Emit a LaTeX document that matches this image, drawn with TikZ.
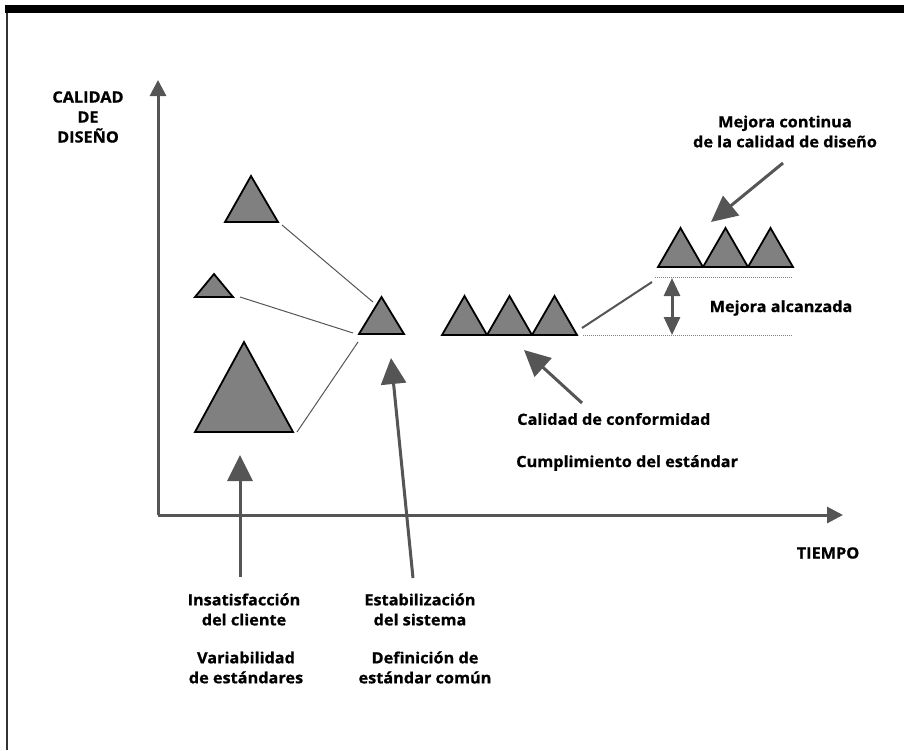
\documentclass[tikz,border=0pt]{standalone}
\usepackage{fontspec}
\setmainfont{Open Sans}[FakeStretch=1.05, BoldFeatures={FakeBold=0.8}]
\usetikzlibrary{arrows.meta}
\definecolor{trigray}{HTML}{808080}
\definecolor{arrgray}{HTML}{555555}
\begin{document}
\begin{tikzpicture}[x=1pt,y=-1pt,
  trishape/.style={fill=trigray, draw=black, line width=1.8pt, line join=miter},
  axis/.style={draw=arrgray, line width=3pt, -{Triangle[length=16pt,width=16pt]}},
  bigarrow/.style={draw=arrgray, line width=3pt, -{Triangle[length=26pt,width=25pt]}},
  dblarrow/.style={draw=arrgray, line width=3pt, {Triangle[length=18pt,width=16pt]}-{Triangle[length=18pt,width=16pt]}},
  thinlink/.style={draw=arrgray, line width=1pt},
  risinglink/.style={draw=arrgray, line width=2pt},
  levelline/.style={draw=gray, line width=1pt, densely dotted},
  lbl/.style={font=\bfseries\fontsize{15.5}{20}\selectfont, align=center, inner sep=0pt}
]
\useasboundingbox (0,0) rectangle (904,750);
% frame
\fill[black] (5,5) rectangle (904,13);
\draw[line width=2pt, black!80] (7,13) -- (7,750);

% axes
\coordinate (O) at (158,515);
\coordinate (ytop) at (158,80);
\coordinate (xend) at (843,515);
\draw[axis] (O) -- (ytop);
\draw[axis] (O) -- (xend);

% axis labels
\node[lbl] (ylab) at (88,117) {CALIDAD\\DE\\DISEÑO};
\node[lbl] (xlab) at (828,553) {TIEMPO};

% thin links to centre triangle
\coordinate (a1) at (282,225); \coordinate (b1) at (373,302);
\coordinate (a2) at (240,297); \coordinate (b2) at (353,333);
\coordinate (a3) at (297,432); \coordinate (b3) at (358,342);
\draw[thinlink] (a1) -- (b1);
\draw[thinlink] (a2) -- (b2);
\draw[thinlink] (a3) -- (b3);

% left triangles
\draw[trishape] (225,222) -- (251,176) -- (278,222) -- cycle;
\draw[trishape] (195,297) -- (214,274) -- (233,297) -- cycle;
\draw[trishape] (195,432) -- (244,342) -- (293,432) -- cycle;
% centre triangle
\draw[trishape] (359,334) -- (381.5,297) -- (404,334) -- cycle;

% row of three (conformity)
\draw[trishape] (442,335) -- (464.5,296) -- (487,335) -- cycle;
\draw[trishape] (487,335) -- (509.5,296) -- (532,335) -- cycle;
\draw[trishape] (532,335) -- (554.5,296) -- (577,335) -- cycle;

% row of three (improved)
\draw[trishape] (658,267) -- (680.5,228) -- (703,267) -- cycle;
\draw[trishape] (703,267) -- (725.5,228) -- (748,267) -- cycle;
\draw[trishape] (748,267) -- (770.5,228) -- (793,267) -- cycle;

% level lines and improvement
\coordinate (lowL) at (583,335); \coordinate (lowR) at (793,335);
\coordinate (upL) at (655,277); \coordinate (upR) at (793,277);
\draw[levelline] (lowL) -- (lowR);
\draw[levelline] (upL) -- (upR);
\coordinate (rs) at (582,328); \coordinate (re) at (652,282);
\draw[risinglink] (rs) -- (re);
\coordinate (dtop) at (672,278); \coordinate (dbot) at (672,335);
\draw[dblarrow] (dtop) -- (dbot);

% labels
\node[lbl] (mc) at (785,131.5) {Mejora continua\\de la calidad de diseño};
\node[lbl] (ma) at (781,308) {Mejora alcanzada};
\node[lbl, anchor=west] (cc) at (517,419) {Calidad de conformidad};
\node[lbl, anchor=west] (ce) at (516,463) {Cumplimiento del estándar};
\node[lbl] (ic) at (244,609.5) {Insatisfacción\\del cliente};
\node[lbl] (ve) at (246,667.5) {Variabilidad\\de estándares};
\node[lbl] (es) at (420,609.5) {Estabilización\\del sistema};
\node[lbl] (de) at (425,667.5) {Definición de\\estándar común};

% pointer arrows
\coordinate (p1s) at (240,577); \coordinate (p1e) at (240,455);
\coordinate (p2s) at (413,578); \coordinate (p2e) at (391,358);
\coordinate (p3s) at (582,403); \coordinate (p3e) at (524,350);
\coordinate (p4s) at (783,163); \coordinate (p4e) at (711,222);
\draw[bigarrow] (p1s) -- (p1e);
\draw[bigarrow] (p2s) -- (p2e);
\draw[bigarrow] (p3s) -- (p3e);
\draw[bigarrow] (p4s) -- (p4e);
\end{tikzpicture}
\end{document}
